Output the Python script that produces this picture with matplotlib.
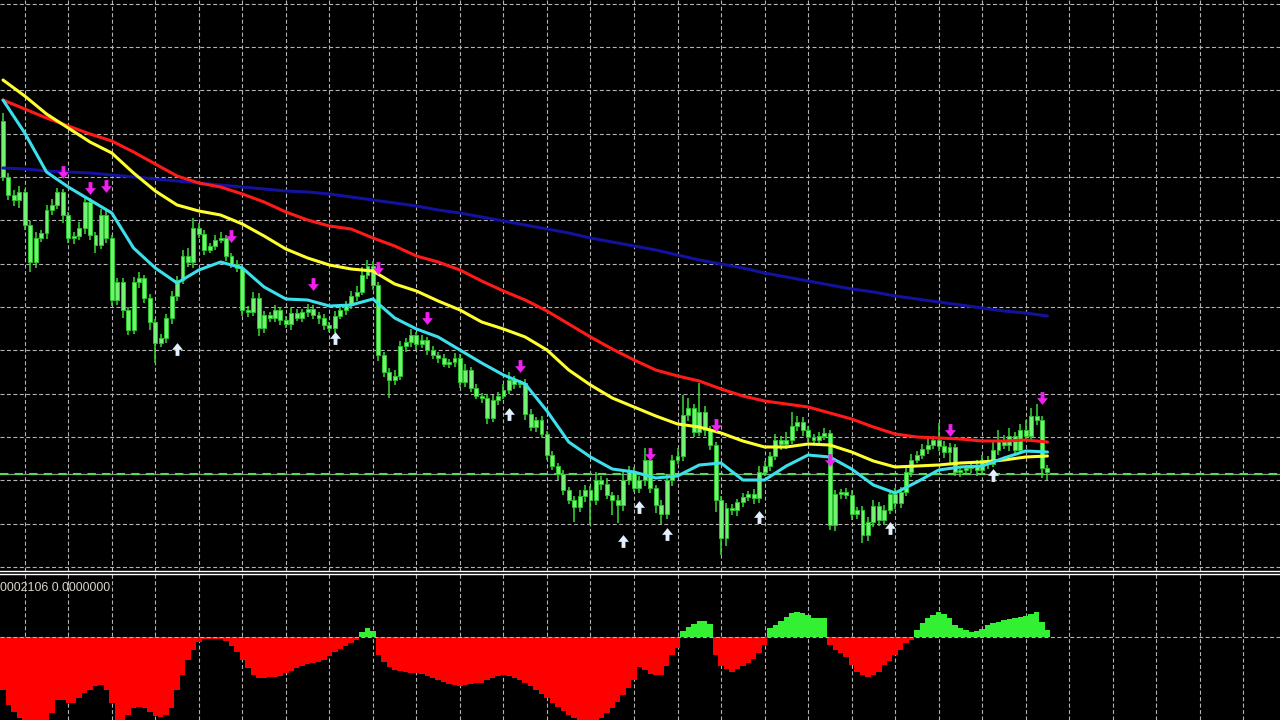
import numpy as np
import matplotlib.pyplot as plt
from matplotlib.path import Path

# chart values in price points (0 = bottom of main window), one entry per bar
open_first = 450
closes = [
    394, 376, 371, 379, 346, 309, 333, 338, 361, 366,
    379, 356, 333, 335, 343, 369, 336, 326, 356, 333,
    271, 289, 261, 241, 289, 293, 273, 249, 228, 233,
    253, 275, 291, 315, 309, 343, 337, 321, 325, 331,
    333, 315, 307, 303, 261, 259, 273, 243, 256, 253,
    261, 251, 247, 258, 253, 259, 262, 256, 253, 246,
    243, 255, 261, 266, 275, 279, 296, 305, 286, 216,
    199, 191, 195, 225, 229, 236, 227, 231, 221, 216,
    213, 207, 209, 213, 189, 201, 183, 175, 173, 153,
    171, 175, 181, 191, 187, 188, 157, 144, 151, 137,
    116, 105, 97, 81, 71, 64, 75, 81, 71, 91,
    87, 76, 71, 66, 91, 99, 83, 91, 111, 83,
    66, 57, 91, 111, 115, 156, 163, 139, 159, 141,
    126, 71, 33, 63, 61, 69, 74, 77, 73, 99,
    105, 115, 131, 127, 131, 145, 149, 141, 134, 131,
    135, 138, 46, 77, 79, 76, 57, 61, 36, 49,
    65, 51, 61, 77, 68, 79, 99, 111, 116, 122,
    126, 131, 125, 119, 124, 99, 101, 103, 105, 101,
    111, 107, 121, 131, 126, 135, 121, 141, 135, 155,
    151, 103, 99,
]
wick_up = [
    8, 4, 5, 6, 3, 4, 6, 3, 5, 6,
    4, 3, 3, 4, 6, 5, 4, 3, 6, 4,
    3, 4, 4, 3, 5, 6, 3, 4, 3, 4,
    4, 5, 4, 6, 8, 10, 5, 4, 3, 5,
    6, 3, 3, 4, 3, 4, 6, 5, 4, 3,
    5, 3, 4, 5, 4, 3, 5, 4, 3, 4,
    3, 5, 3, 4, 5, 6, 8, 6, 5, 3,
    3, 4, 6, 5, 4, 6, 3, 5, 3, 4,
    3, 4, 3, 5, 4, 6, 3, 4, 3, 4,
    5, 4, 6, 8, 4, 3, 4, 5, 3, 4,
    3, 4, 3, 4, 3, 4, 6, 5, 4, 8,
    4, 6, 3, 5, 10, 6, 5, 4, 12, 4,
    3, 5, 6, 5, 8, 20, 10, 4, 29, 6,
    4, 3, 4, 5, 4, 3, 4, 3, 5, 6,
    5, 4, 6, 4, 8, 14, 6, 5, 4, 3,
    4, 5, 3, 4, 3, 4, 5, 3, 4, 5,
    6, 4, 5, 4, 6, 5, 4, 6, 4, 5,
    6, 4, 17, 5, 4, 3, 4, 3, 4, 6,
    5, 4, 8, 10, 5, 8, 4, 6, 10, 8,
    12, 4, 3,
]
wick_dn = [
    4, 5, 6, 8, 5, 10, 6, 4, 6, 5,
    4, 8, 5, 6, 4, 6, 5, 8, 4, 5,
    6, 5, 8, 5, 4, 6, 5, 8, 20, 4,
    5, 6, 5, 4, 5, 6, 4, 5, 3, 4,
    3, 5, 4, 4, 6, 5, 4, 8, 5, 4,
    4, 5, 4, 6, 3, 4, 5, 4, 6, 5,
    4, 5, 3, 5, 4, 5, 3, 4, 5, 6,
    5, 18, 5, 4, 6, 5, 6, 4, 5, 4,
    5, 3, 4, 5, 6, 5, 4, 3, 5, 6,
    4, 5, 3, 4, 5, 4, 6, 4, 5, 4,
    5, 4, 6, 5, 4, 15, 5, 6, 25, 5,
    6, 4, 15, 18, 6, 5, 4, 5, 6, 5,
    8, 10, 5, 6, 4, 5, 6, 5, 4, 6,
    5, 12, 17, 8, 5, 6, 5, 4, 6, 5,
    4, 5, 4, 6, 5, 4, 5, 6, 5, 4,
    5, 4, 5, 6, 5, 4, 6, 5, 8, 6,
    5, 6, 5, 4, 6, 5, 4, 5, 3, 4,
    5, 4, 5, 6, 12, 4, 5, 4, 5, 6,
    4, 5, 3, 5, 4, 6, 5, 4, 5, 4,
    5, 10, 8,
]

# oscillator in the lower window, one entry per bar
hist = [
    -53, -68, -75, -81, -88, -92, -95, -95, -90, -76,
    -63, -63, -66, -66, -61, -56, -53, -49, -48, -53,
    -66, -83, -90, -78, -71, -70, -71, -75, -79, -80,
    -78, -71, -53, -38, -23, -13, -5, -2, -1.5, -1.5,
    -2, -4, -9, -15, -23, -31, -38, -41, -41, -40,
    -40, -39, -36, -34, -31, -29, -27, -26, -25, -23,
    -19, -15, -12, -9, -6, -3, 5, 9, 6, -18,
    -25, -30, -33, -34, -35, -36, -36, -37, -39, -41,
    -43, -45, -47, -48, -49, -48, -47, -46, -46, -43,
    -41, -39, -38, -39, -41, -43, -46, -49, -53, -57,
    -61, -66, -70, -74, -78, -81, -83, -86, -88, -85,
    -81, -76, -71, -65, -58, -51, -43, -30, -33, -37,
    -38, -38, -29, -18, -11, 6, 10, 13, 16, 16,
    13, -18, -29, -32, -35, -32, -29, -26, -22, -16,
    -8, 9, 12, 16, 20, 24, 25, 24, 22, 19,
    19, 19, -8, -13, -16, -20, -28, -35, -38, -40,
    -38, -35, -28, -24, -18, -13, -6, -3, 7, 14,
    19, 22, 25, 23, 19, 12, 9, 7, 5, 6,
    8, 12, 14, 15, 17, 18, 19, 20, 21, 23,
    25, 15, 7,
]

# moving averages, read every 4th bar
ma_step = 4
ma_fast = [471, 438, 399, 384, 371, 358, 323, 303, 288, 301, 309, 303, 284, 272, 271, 265, 266,
           272, 253, 242, 234, 221, 208, 196, 187, 160, 129, 114, 102, 99, 93, 95, 106, 108,
           91, 91, 105, 116, 114, 102, 86, 78, 89, 101, 104, 105, 113, 120, 119]
ma_mid = [491, 475, 457, 443, 429, 418, 398, 380, 366, 360, 356, 347, 335, 322, 313, 306, 302,
          300, 287, 280, 270, 261, 249, 242, 234, 221, 201, 186, 173, 164, 155, 147, 144, 138,
          130, 124, 124, 127, 126, 119, 110, 104, 105, 106, 108, 109, 111, 114, 115]
ma_slow = [471, 462, 453, 445, 437, 430, 419, 407, 395, 388, 384, 377, 369, 359, 351, 345, 342,
           333, 325, 315, 309, 301, 290, 280, 271, 260, 247, 234, 222, 211, 201, 195, 190, 182,
           175, 170, 167, 164, 158, 152, 144, 137, 134, 133, 132, 130, 130, 131, 129]
ma_long = [403, 402, 400, 399, 398, 396, 394, 392, 390, 388, 386, 384, 382, 380, 379, 377, 374,
           371, 368, 365, 361, 358, 354, 350, 346, 342, 338, 333, 329, 325, 321, 316, 311, 307,
           303, 298, 294, 290, 286, 282, 279, 275, 272, 269, 266, 263, 260, 258, 255]

# signal arrows
sell_bars = [11, 16, 19, 42, 57, 69, 78, 95, 119, 131, 152, 174, 191]
sell_prices = [399, 383, 385, 335, 287, 303, 253, 205, 117, 146, 111, 141, 173]
buy_bars = [32, 61, 93, 114, 117, 122, 139, 163, 182]
buy_prices = [222, 233, 157, 30, 64, 37, 54, 43, 96]
bid_price = 97.5
indicator_label = "0002106 0.0000000"

# ---- derived ohlc ----
closes = np.array(closes, dtype=float)
opens = np.concatenate([[open_first], closes[:-1]])
highs = np.maximum(opens, closes) + np.array(wick_up)
lows = np.minimum(opens, closes) - np.array(wick_dn)
bars = np.arange(len(closes))
ma_bars = np.arange(0, len(closes), ma_step)

BG = 'black'
GRID = '#B4B4B4'
grid_ls = (0, (3.6, 2.2))

fig = plt.figure(figsize=(12.8, 7.2), dpi=100, facecolor=BG)
ax = fig.add_axes([0, 149 / 720, 1, 571 / 720], facecolor=BG)
ax2 = fig.add_axes([0, 0, 1, 146 / 720], facecolor=BG)

for a in (ax, ax2):
    a.set_xlim(-0.55, 234.75)
    a.set_xticks(np.arange(4, 235, 8))
    a.tick_params(length=0, labelbottom=False, labelleft=False)
    for s in a.spines.values():
        s.set_visible(False)
    a.set_axisbelow(True)

# main window
ax.set_ylim(0, 571)
ax.set_yticks(np.arange(4, 571, 43.33))
ax.grid(True, color=GRID, linestyle=grid_ls, linewidth=0.8)
ax.spines['bottom'].set_visible(True)
ax.spines['bottom'].set_color('white')
ax.spines['bottom'].set_linewidth(1.0)

ax.axhline(bid_price, color='#8A9A8A', lw=0.9, zorder=1.5)
ax.axhline(bid_price, color='#55DD55', lw=1.5, linestyle=(0, (4, 3)), zorder=1.6)

ax.vlines(bars, lows, highs, color='#3ADB3A', lw=1.1, zorder=2)
ax.bar(bars, np.maximum(np.abs(closes - opens), 1.5), bottom=np.minimum(opens, closes),
       width=0.72, color='#72F272', edgecolor='#2EC42E', linewidth=0.7, zorder=2.5)

line_kw = dict(lw=2.2, zorder=3, solid_joinstyle='round', solid_capstyle='round')
ax.plot(ma_bars, ma_long, color='#12129E', **line_kw)
ax.plot(ma_bars, ma_slow, color='#FF1A1A', **line_kw)
ax.plot(ma_bars, ma_mid, color='#FFFF30', **line_kw)
ax.plot(ma_bars, ma_fast, color='#3CE0EC', **line_kw)

down_arrow = Path([(-0.3, 1), (0.3, 1), (0.3, 0.05), (0.85, 0.05), (0, -1),
                   (-0.85, 0.05), (-0.3, 0.05), (-0.3, 1)], closed=True)
up_arrow = Path([(x, -y) for x, y in down_arrow.vertices], closed=True)
ax.scatter(sell_bars, sell_prices, marker=down_arrow, s=85, color='#F020F0',
           linewidths=0, zorder=4)
ax.scatter(buy_bars, buy_prices, marker=up_arrow, s=85, color='#E4F0FF',
           linewidths=0, zorder=4)

# lower window
ax2.set_ylim(-83, 63)
ax2.set_yticks([])
ax2.grid(True, axis='x', color=GRID, linestyle=grid_ls, linewidth=0.8)
ax2.spines['top'].set_visible(True)
ax2.spines['top'].set_color('white')
ax2.spines['top'].set_linewidth(1.0)
hist = np.array(hist, dtype=float)
ax2.bar(bars, hist, width=1.0, color=np.where(hist >= 0, '#33F033', '#FF0000'),
        linewidth=0, zorder=2)
ax2.axhline(0, color=GRID, linestyle=grid_ls, linewidth=0.8, zorder=3)

fig.text(0.0, 1 - 588 / 720, indicator_label, color='#D8D4CA', fontsize=8.9,
         family='Liberation Sans', ha='left', va='center')

fig.savefig('out.png', dpi=100, facecolor=BG)
